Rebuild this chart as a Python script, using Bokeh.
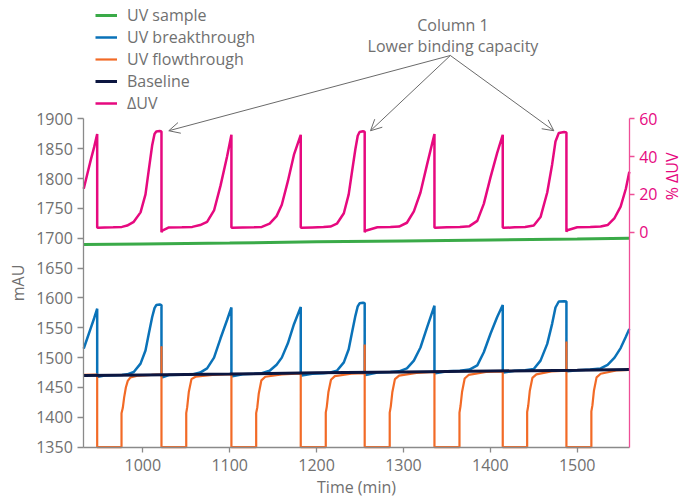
import numpy as np
from bokeh.plotting import figure
from bokeh.models import (Range1d, LinearAxis, FixedTicker, SingleIntervalTicker,
                          Legend, LegendItem, Label, Arrow, OpenHead)
from bokeh.embed import file_html
from bokeh.resources import INLINE

# ---------------- data ----------------
# UV sample (mAU)
sample_t = [932, 1000, 1100, 1200, 1300, 1400, 1500, 1560]
sample_v = [1689.5, 1690.5, 1692, 1694, 1695.5, 1697, 1698.5, 1700]

# Baseline (mAU)
base_t = [932, 1000, 1100, 1200, 1300, 1400, 1500, 1560]
base_v = [1470, 1471, 1472.5, 1474.5, 1476, 1477.5, 1479, 1480]

# UV breakthrough (mAU)
bt_t = [932, 936, 940, 944, 947.5,
        947.5, 948.5, 956, 966, 976, 982, 989.6, 997.4, 1003.1, 1006.9, 1010.8, 1013.5, 1015.5, 1019.5, 1021.5,
        1021.5, 1022.5, 1030, 1045, 1057, 1066, 1074, 1082, 1089.4, 1097, 1102,
        1102, 1103, 1115, 1128, 1137, 1146, 1154, 1160, 1167, 1174, 1181.8,
        1181.8, 1182.8, 1195, 1208, 1216, 1223.4, 1231.4, 1237, 1240.8, 1244.7, 1247.4, 1249.5, 1253.4, 1255.4,
        1255.4, 1256.4, 1270, 1285, 1295, 1304, 1312, 1319.6, 1327.3, 1335.7,
        1335.7, 1336.7, 1350, 1365, 1376, 1385, 1392.5, 1400.2, 1407.9, 1414.3,
        1414.3, 1415.3, 1428, 1440, 1450, 1457.8, 1465.5, 1471.2, 1475, 1478.8, 1485, 1487.6,
        1487.6, 1488.6, 1500, 1515, 1527, 1535, 1543, 1550, 1556, 1560]
bt_v = [1515, 1532, 1549, 1566, 1582,
        1469, 1468, 1470, 1470.5, 1471, 1472, 1476, 1490, 1512, 1540, 1568, 1583, 1588, 1589, 1588,
        1470, 1467, 1471, 1471.5, 1472, 1475, 1482, 1500, 1532, 1563, 1584,
        1471, 1469, 1472, 1473, 1474, 1478, 1488, 1500, 1524, 1556, 1585,
        1472, 1470, 1473, 1474, 1475, 1478, 1492, 1514, 1542, 1570, 1586, 1591, 1592, 1591,
        1474, 1471, 1475, 1476, 1477, 1482, 1495, 1517, 1551, 1587,
        1476, 1474, 1477, 1478, 1480, 1487, 1509, 1540, 1568, 1588,
        1477, 1475, 1478, 1479, 1481, 1495, 1523, 1557, 1584, 1594, 1594.5, 1594,
        1479, 1477, 1479, 1480, 1482, 1488, 1500, 1516, 1535, 1548]

# Delta UV (%)
duv_t = bt_t
duv_v = [23, 30.5, 38, 45, 52,
         2.5, 2.3, 2.5, 2.6, 2.8, 3.5, 5.5, 10.5, 20, 33, 46, 52, 53.3, 53.5, 53.3,
         0, 0.8, 2.5, 2.6, 2.8, 3.8, 5.5, 11.5, 24.5, 40, 51.5,
         2.5, 2.3, 2.5, 2.6, 2.8, 4.5, 8.5, 14.5, 27, 41, 51.5,
         2.5, 2.3, 2.5, 2.7, 3, 4.5, 10, 20, 32, 44, 51, 53, 53.4, 53.2,
         0, 0.8, 2.6, 2.7, 3, 5, 11, 21, 36, 52,
         2.5, 2.3, 2.6, 2.7, 3.2, 6, 15, 29, 42, 51.5,
         2.5, 2.3, 2.6, 2.8, 3.5, 8, 21, 36, 48, 52.5, 53, 52.8,
         0.3, 1, 2.6, 2.8, 3, 3.8, 7.5, 13.5, 23, 32]

# UV flowthrough (mAU)
ft_t = [932, 947.5, 947.5, 975.5, 975.5, 977, 978.5, 980.5, 982.7, 985.8, 995, 1010, 1021.5,
        1021.5, 1021.5, 1050, 1050, 1051.1, 1053, 1056, 1060.7, 1080, 1102,
        1102, 1130.5, 1130.5, 1131.8, 1133.5, 1136.5, 1141, 1160, 1181.8,
        1181.8, 1210.6, 1210.6, 1211.8, 1213.6, 1216.6, 1221, 1240, 1255.4,
        1255.4, 1255.4, 1284.2, 1284.2, 1285.4, 1287.2, 1290.2, 1295, 1315, 1335.7,
        1335.7, 1364.5, 1364.5, 1365.7, 1367.5, 1370.5, 1375, 1395, 1414.3,
        1414.3, 1442.4, 1442.4, 1443.6, 1445.4, 1448.4, 1453, 1470, 1487.6,
        1487.6, 1487.6, 1516.3, 1516.3, 1517.5, 1519.3, 1522.3, 1527, 1545, 1560]
ft_v = [1471, 1471.5, 1350, 1350, 1407, 1416, 1433, 1450, 1461, 1467, 1470, 1471, 1472,
        1519, 1350, 1350, 1407, 1417, 1443, 1464, 1468, 1471, 1472.5,
        1350, 1350, 1407, 1417, 1440, 1462, 1468, 1472, 1473.5,
        1350, 1350, 1408, 1418, 1442, 1463, 1469, 1473, 1474,
        1522, 1350, 1350, 1408, 1418, 1442, 1464, 1470, 1474.5, 1476,
        1350, 1350, 1408, 1419, 1443, 1465, 1471, 1476, 1477,
        1350, 1350, 1409, 1419, 1444, 1466, 1472, 1477, 1478,
        1527, 1350, 1350, 1410, 1420, 1445, 1467, 1473, 1478.5, 1479.5]

# axes extents and ticks
x_lo, x_hi = 932.1, 1559.85
y_lo, y_hi = 1350, 1900
pct_lo, pct_hi = -113.75, 60
x_ticks_interval = 100
y_ticks_interval = 50
pct_ticks = [0, 20, 40, 60]

# annotation anchors (data units)
annot_text = ["Column 1", "Lower binding capacity"]
annot_x = 1357
arrow_start = (1354, 2006)
arrow_tips_x = [1029.9, 1262.1, 1473.1]
arrow_tip_y = 1880

# ---------------- styling ----------------
FONT = "Open Sans"
GRAY = "#707070"
AXGRAY = "#8a8a8a"
GREEN = "#3aaa48"
BLUE = "#0a72b8"
ORANGE = "#f26a26"
NAVY = "#0c1640"
PINK = "#e6097f"
PINK_AX = "#ee4f97"

# the frame fills the whole canvas; axes are pinned at data positions
PXX = 0.8688      # px per minute
PXY = 0.59709     # px per mAU
PXP = 1.89        # px per %
W, H = 683, 497
X0 = 1000 - 142.3 / PXX
Y1 = 1900 + 118.3 / PXY
P1 = 60 + 118.3 / PXP

p = figure(width=W, height=H, output_backend="svg", toolbar_location=None,
           x_range=Range1d(X0, X0 + W / PXX), y_range=Range1d(Y1 - H / PXY, Y1),
           min_border=0, min_border_left=0, min_border_right=0,
           min_border_top=0, min_border_bottom=0)
p.extra_y_ranges = {"pct": Range1d(P1 - H / PXP, P1)}
p.grid.visible = False
p.outline_line_color = None

r_green = p.line(sample_t, sample_v, color=GREEN, line_width=3)
r_pink = p.line(duv_t, duv_v, color=PINK, line_width=2.5, y_range_name="pct")
r_blue = p.line(bt_t, bt_v, color=BLUE, line_width=2.5)
r_orange = p.line(ft_t, ft_v, color=ORANGE, line_width=2.2)
r_navy = p.line(base_t, base_v, color=NAVY, line_width=3)

def style_axis(ax, col, txtcol):
    ax.axis_line_color = col
    ax.axis_line_width = 1.3
    ax.major_tick_line_color = col
    ax.major_tick_line_width = 1.3
    ax.major_tick_out = 6
    ax.major_tick_in = 0
    ax.minor_tick_out = 0
    ax.minor_tick_in = 0
    ax.major_label_text_font = FONT
    ax.major_label_text_font_size = "16px"
    ax.major_label_text_color = txtcol
    ax.axis_label_text_font = FONT
    ax.axis_label_text_font_size = "16px"
    ax.axis_label_text_font_style = "normal"
    ax.axis_label_text_color = txtcol

xa = p.xaxis[0]
xa.ticker = SingleIntervalTicker(interval=x_ticks_interval, num_minor_ticks=0)
style_axis(xa, AXGRAY, GRAY)
xa.axis_label = "Time (min)"
xa.major_label_standoff = 7
xa.axis_label_standoff = 1
xa.fixed_location = y_lo
xa.bounds = (x_lo, x_hi)
xa.major_tick_out = 5

ya = p.yaxis[0]
ya.ticker = SingleIntervalTicker(interval=y_ticks_interval, num_minor_ticks=0)
style_axis(ya, AXGRAY, GRAY)
ya.axis_label = "mAU"
ya.major_label_standoff = 5
ya.axis_label_standoff = 4
ya.fixed_location = x_lo
ya.bounds = (y_lo, y_hi)

ra = LinearAxis(y_range_name="pct", ticker=FixedTicker(ticks=pct_ticks))
style_axis(ra, PINK_AX, PINK)
ra.major_label_standoff = 5
ra.major_tick_out = 5
ra.fixed_location = x_hi
ra.bounds = (pct_lo, pct_hi)
p.add_layout(ra, "right")

p.add_layout(Label(x=1000 + (671 - 142.3) / PXX, y=29.5, y_range_name="pct", text="% ΔUV",
                   angle=np.pi / 2, text_align="center", text_baseline="middle", text_color=PINK,
                   text_font=FONT, text_font_size="16px"))

legend = Legend(items=[LegendItem(label="UV sample", renderers=[r_green]),
                       LegendItem(label="UV breakthrough", renderers=[r_blue]),
                       LegendItem(label="UV flowthrough", renderers=[r_orange]),
                       LegendItem(label="Baseline", renderers=[r_navy]),
                       LegendItem(label="ΔUV", renderers=[r_pink])],
                location=(95, H - 114), orientation="vertical",
                glyph_width=22, glyph_height=20, label_height=20, spacing=-1,
                padding=0, margin=0, label_standoff=10,
                border_line_color=None, background_fill_alpha=0,
                label_text_font=FONT, label_text_font_size="16px", label_text_color=GRAY)
p.add_layout(legend)

p.add_layout(Label(x=annot_x, y=2056.3, text=annot_text[0], text_align="center",
                   text_baseline="alphabetic", text_color=GRAY, text_font=FONT, text_font_size="16px"))
p.add_layout(Label(x=annot_x, y=2021.1, text=annot_text[1], text_align="center",
                   text_baseline="alphabetic", text_color=GRAY, text_font=FONT, text_font_size="16px"))
for tx in arrow_tips_x:
    p.add_layout(Arrow(end=OpenHead(size=11, line_color="#6a6a6a", line_width=1),
                       x_start=arrow_start[0], y_start=arrow_start[1], x_end=tx, y_end=arrow_tip_y,
                       line_color="#6a6a6a", line_width=1))

open("out.html", "w").write(file_html(p, INLINE))
